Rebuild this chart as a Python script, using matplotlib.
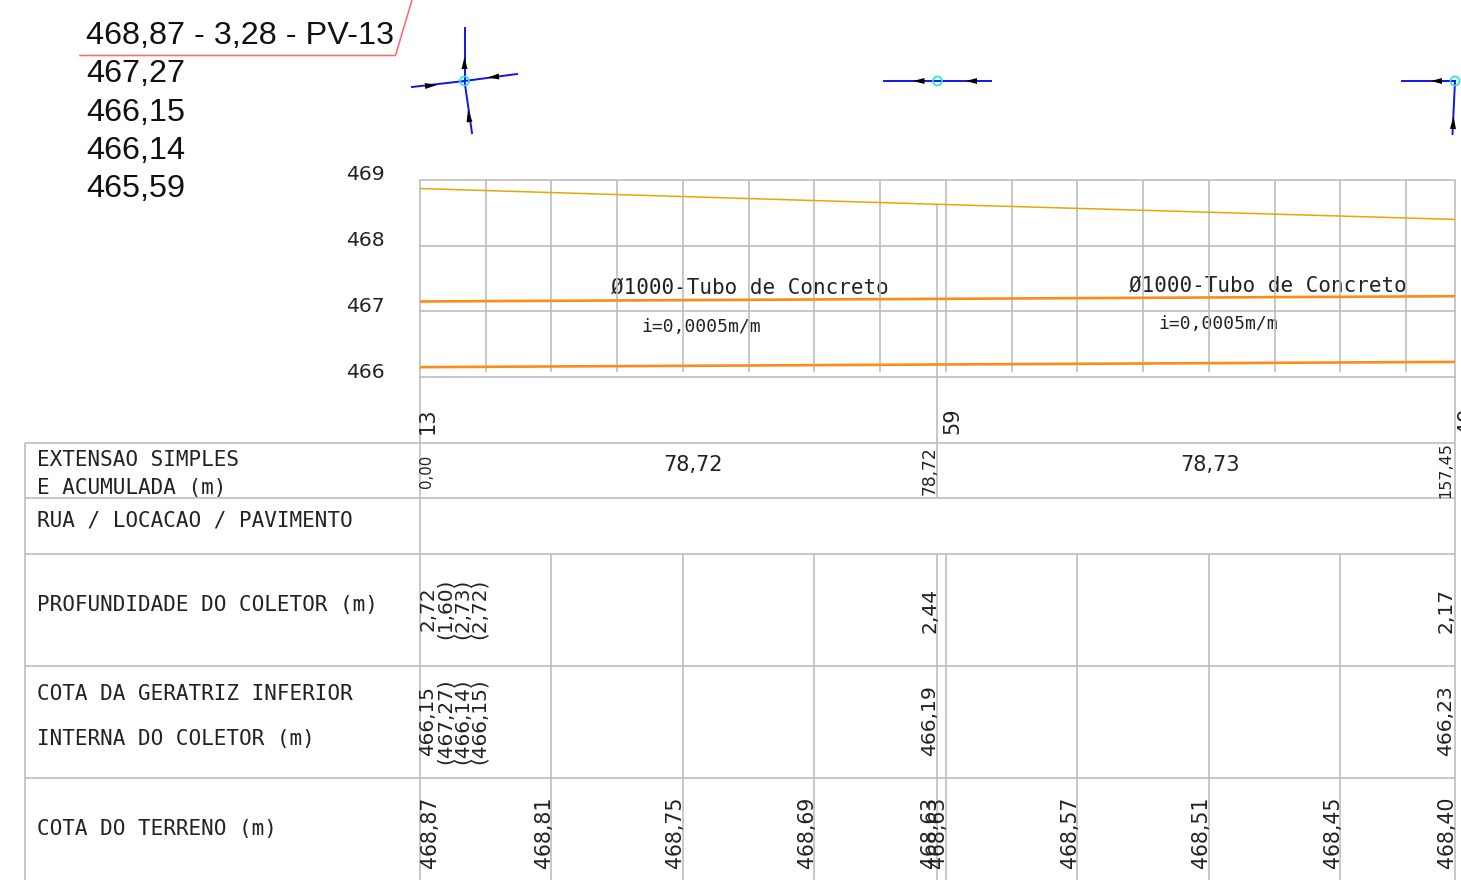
#!/usr/bin/env python3
import matplotlib
matplotlib.use("Agg")
import matplotlib.pyplot as plt
from matplotlib.patches import Circle, Polygon
from matplotlib.transforms import blended_transform_factory

W, H = 1461, 880
GREY = "#bdbdbd"
CAD = "DejaVu Sans"
MONO = "DejaVu Sans Mono"

# profile data
stations = [0, 78.72, 157.45]
terrain = [468.87, 468.63, 468.40]
invert = [466.15, 466.19, 466.23]
crown = [467.15, 467.19, 467.23]
elev_ticks = [469, 468, 467, 466]
grid_stations = [10, 20, 30, 40, 50, 60, 70, 80, 90, 100, 110, 120, 130, 140, 150]
pv_names = ["13", "59", "49"]

# table data
row_lines = [443, 498.5, 554, 666, 778]
table_stations = [20, 40, 60, 78.72, 80, 100, 120, 140]
length_labels = ["78,72", "78,73"]
accum_labels = ["0,00", "78,72", "157,45"]
depth_labels = ["2,72", "(1,60)", "(2,73)", "(2,72)"]
depth_others = ["2,44", "2,17"]
invert_labels = ["466,15", "(467,27)", "(466,14)", "(466,15)"]
invert_others = ["466,19", "466,23"]
terrain_stations = [0, 20, 40, 60, 78.72, 80, 100, 120, 140, 157.45]
terrain_labels = ["468,87", "468,81", "468,75", "468,69", "468,63", "468,63",
                  "468,57", "468,51", "468,45", "468,40"]

# header
header_lines = ["468,87 - 3,28 - PV-13", "467,27", "466,15", "466,14", "465,59"]
header_base = [44, 82, 121, 159, 197]

# plan view: (node, ends of the pipes, arrows as base/tip)
plan_nodes = [(464.5, 81), (937.5, 81), (1455, 81)]
plan_ends = [[(464.5, 28), (517, 74), (412, 87), (472, 133)],
             [(884, 81), (991, 81)],
             [(1402, 81), (1452.5, 134)]]
plan_arrows = [((464.5, 69), (464.5, 57)), ((499, 76.5), (488, 77.5)),
               ((425, 86), (437, 85)), ((469.5, 122), (468, 110)),
               ((924.5, 81), (913, 81)), ((977, 81), (966, 81)),
               ((1442, 81), (1431, 81)), ((1453, 129), (1453.5, 116))]

fig = plt.figure(figsize=(W / 100, H / 100), dpi=100)
ax = fig.add_axes([0, 0, 1, 1])
ax.set_xlim(0, W)
ax.set_ylim(H, 0)
ax.axis("off")

# profile axes, from the pixel box of the grid
prof = fig.add_axes([420 / W, 1 - 377 / H, 1035 / W, 197 / H])
prof.set_xlim(0, 157.45)
prof.set_ylim(466, 469)
prof.patch.set_alpha(0)
prof.set_xticks([])
prof.set_yticks([])
for s in prof.spines.values():
    s.set_visible(False)
for e in elev_ticks:
    prof.axhline(e, color=GREY, lw=1.2, clip_on=False, zorder=1)
prof.vlines(grid_stations, 466.07, 469, color=GREY, lw=1.2, zorder=1)
prof.plot(stations, terrain, color="#e6a800", lw=1.1, zorder=3)
prof.plot(stations, crown, color="#ff8a14", lw=1.9, zorder=3)
prof.plot(stations, invert, color="#ff8a14", lw=1.9, zorder=3)

# x in metres, y in pixels
st = blended_transform_factory(prof.transData, ax.transData)

for e, y in zip(elev_ticks, [174, 240, 306, 372]):
    ax.text(385, y, str(e), ha="right", va="center", fontsize=14.6, family=CAD, color="#222222")

# long verticals through profile and table
ax.vlines([0, 157.45], 180, 880, color=GREY, lw=1.2, transform=st, zorder=1)
ax.vlines(78.72, 204, 498.5, color=GREY, lw=1.2, transform=st, zorder=1)
ax.vlines(table_stations, 554, 880, color=GREY, lw=1.2, transform=st, zorder=1)
ax.hlines(row_lines, 25, 1455, color=GREY, lw=1.2, zorder=1)
ax.vlines(25, 443, 880, color=GREY, lw=1.2, zorder=1)

# pipe labels
for x, y, t, fs in [(750, 288, "Ø1000-Tubo de Concreto", 15), (1267.5, 286, "Ø1000-Tubo de Concreto", 15),
                    (701, 327, "i=0,0005m/m", 13), (1218, 324, "i=0,0005m/m", 13)]:
    ax.text(x, y, t, ha="center", va="center", fontsize=fs, family=MONO, color="#222222")

# pv names above the table
for x, t in zip([428, 952, 1467], pv_names):
    ax.text(x, 434, t, rotation=90, ha="center", va="bottom", fontsize=15, family=CAD, color="#222222")

# row titles
titles = [(37, 460, "EXTENSAO SIMPLES"), (37, 488, "E ACUMULADA (m)"),
          (37, 521, "RUA / LOCACAO / PAVIMENTO"), (37, 605, "PROFUNDIDADE DO COLETOR (m)"),
          (37, 694, "COTA DA GERATRIZ INFERIOR"), (37, 739, "INTERNA DO COLETOR (m)"),
          (37, 829, "COTA DO TERRENO (m)")]
for x, y, t in titles:
    ax.text(x, y, t, ha="left", va="center", fontsize=15.1, family=MONO, color="#222222")

# extension row
ax.text(693, 465, length_labels[0], ha="center", va="center", fontsize=15, family=CAD, color="#222222")
ax.text(1210.5, 465, length_labels[1], ha="center", va="center", fontsize=15, family=CAD, color="#222222")
for x, y, t, fs in zip([426, 930, 1446], [471, 470.5, 470], accum_labels, [10.7, 12.3, 11.5]):
    ax.text(x, y, t, rotation=90, ha="center", va="center", fontsize=fs, family=CAD, color="#222222")

# depth and invert rows, the first column is stacked
for x, t1, t2 in zip([428, 445, 462, 479], depth_labels, invert_labels):
    ax.text(x, 609, t1, rotation=90, ha="center", va="center", fontsize=14.4, family=CAD,
            color="#222222", linespacing=1)
    ax.text(x, 721, t2, rotation=90, ha="center", va="center", fontsize=14.4, family=CAD,
            color="#222222", linespacing=1)
for x, t1, t2 in zip([930, 1446], depth_others, invert_others):
    ax.text(x, 610, t1, rotation=90, ha="center", va="center", fontsize=14.6, family=CAD, color="#222222")
    ax.text(x, 721, t2, rotation=90, ha="center", va="center", fontsize=14.6, family=CAD, color="#222222")

# terrain row
for i, (s, t) in enumerate(zip(terrain_stations, terrain_labels)):
    off = 10 if i == 0 else -7.5
    x = ax.transData.inverted().transform(st.transform((s, 0)))[0] + off
    ax.text(x, 868, t, rotation=90, ha="center", va="bottom", fontsize=14.8, family=CAD, color="#222222")

# header block
for t, y in zip(header_lines, header_base):
    ax.text(86, y, t, ha="left", va="baseline", fontsize=23.3, family="Liberation Sans", color="#111111")
ax.plot([80, 395.5, 412], [55.5, 55.5, 0], color="#ff6666", lw=1.1, solid_joinstyle="miter")

# plan view
for node, ends in zip(plan_nodes, plan_ends):
    for end in ends:
        ax.plot([node[0], end[0]], [node[1], end[1]], color="#1414e6", lw=1.4, zorder=3)
    ax.add_patch(Circle(node, 4.5, fill=False, ec="#19e6f0", lw=1.2, zorder=5, clip_on=False))
for base, tip in plan_arrows:
    dx, dy = tip[0] - base[0], tip[1] - base[1]
    n = (dx ** 2 + dy ** 2) ** 0.5
    px, py = -dy / n * 3, dx / n * 3
    ax.add_patch(Polygon([tip, (base[0] + px, base[1] + py), (base[0] - px, base[1] - py)],
                         closed=True, fc="black", ec="none", zorder=4))

ax.set_xlim(0, W)
ax.set_ylim(H, 0)
fig.savefig("out.png", dpi=100)
